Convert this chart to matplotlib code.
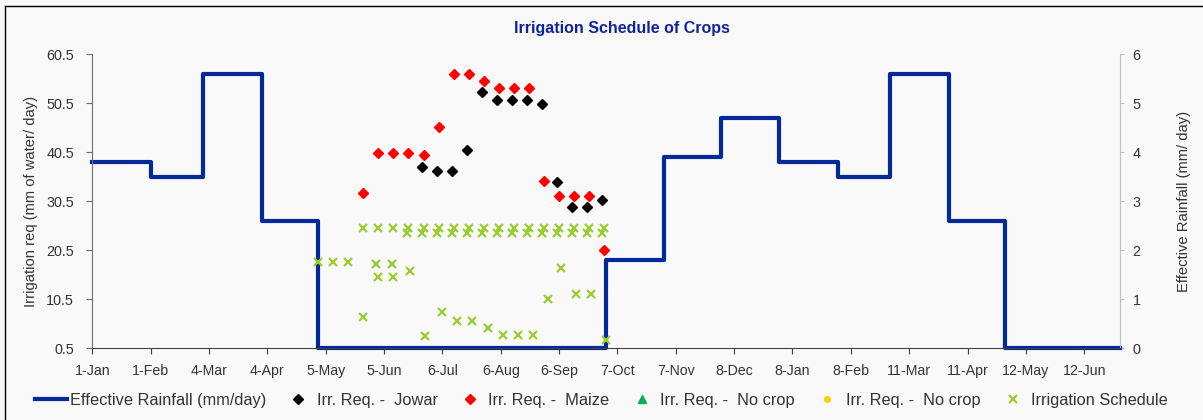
import matplotlib
matplotlib.use("Agg")
import matplotlib.pyplot as plt
import numpy as np
import pandas as pd
from matplotlib.lines import Line2D

# ---------------- data ----------------
season_start = "2021-01-01"
axis_end = "2022-07-01"

# monthly effective rainfall (mm/day), step line, month starts
rain_month_starts = ["2021-01-01", "2021-02-01", "2021-03-01", "2021-04-01", "2021-05-01",
                     "2021-06-01", "2021-07-01", "2021-08-01", "2021-09-01", "2021-10-01",
                     "2021-11-01", "2021-12-01", "2022-01-01", "2022-02-01", "2022-03-01",
                     "2022-04-01", "2022-05-01", "2022-06-01", "2022-07-01"]
rain_values = [3.8, 3.5, 5.6, 2.6, 0.0, 0.0, 0.0, 0.0, 0.0, 1.8,
               3.9, 4.7, 3.8, 3.5, 5.6, 2.6, 0.0, 0.0, 0.0]

# irrigation requirement (mm of water/day), by day since 1-Jan
jowar_days = [175, 183, 191, 199, 207, 215, 223, 231, 239, 247, 255, 263, 271]
jowar_req = [37.5, 36.6, 36.6, 40.9, 52.8, 51.2, 51.2, 51.2, 50.4, 34.4, 29.3, 29.3, 30.7]

maize_days = [144, 152, 160, 168, 176, 184, 192, 200, 208, 216, 224, 232, 240, 248, 256, 264, 272]
maize_req = [32.1, 40.4, 40.4, 40.4, 39.9, 45.7, 56.4, 56.4, 54.9, 53.5, 53.5, 53.5,
             34.6, 31.5, 31.5, 31.5, 20.5]

nocrop1_days, nocrop1_req = [], []
nocrop2_days, nocrop2_req = [], []

# irrigation schedule points
sched_days = [120, 128, 136,
              144, 152, 160, 168, 176, 184, 192, 200, 208, 216, 224, 232, 240, 248, 256, 264, 272,
              167, 175, 183, 191, 199, 207, 215, 223, 231, 239, 247, 255, 263, 271,
              144, 151, 152, 159, 160, 169, 177, 186, 194, 202, 210, 218, 226, 234, 242, 249,
              257, 265, 273]
sched_vals = [18.0, 18.0, 18.0,
              25.0, 25.0, 25.0, 25.0, 25.0, 25.0, 25.0, 25.0, 25.0, 25.0, 25.0, 25.0, 25.0,
              25.0, 25.0, 25.0, 25.0,
              24.1, 24.1, 24.1, 24.1, 24.1, 24.1, 24.1, 24.1, 24.1, 24.1, 24.1, 24.1, 24.1, 24.1,
              6.9, 17.7, 15.1, 17.7, 15.1, 16.3, 3.1, 8.0, 6.1, 6.1, 4.7, 3.2, 3.2, 3.2, 10.6,
              16.8, 11.6, 11.6, 2.2]

tick_labels = ["1-Jan", "1-Feb", "4-Mar", "4-Apr", "5-May", "5-Jun", "6-Jul", "6-Aug", "6-Sep",
               "7-Oct", "7-Nov", "8-Dec", "8-Jan", "8-Feb", "11-Mar", "11-Apr", "12-May", "12-Jun"]
left_ticks = [0.5, 10.5, 20.5, 30.5, 40.5, 50.5, 60.5]
right_ticks = [0, 1, 2, 3, 4, 5, 6]

# ---------------- helpers ----------------
base = pd.Timestamp(season_start)


def to_dates(days):
    return (base + pd.to_timedelta(np.asarray(days, dtype=float), unit="D")).to_numpy()


FONT = ["Liberation Sans", "DejaVu Sans"]
plt.rcParams["font.family"] = FONT
plt.rcParams["font.size"] = 10
BG = "#F9F9F9"
TXT = "#333333"

fig = plt.figure(figsize=(12.03, 4.2), dpi=100, facecolor=BG)
ax1 = fig.add_axes([0.0767, 0.1707, 0.931 - 0.0767, 0.8714 - 0.1707])
ax2 = ax1.twinx()
ax1.set_zorder(ax2.get_zorder() + 1)
ax1.patch.set_visible(False)
ax2.patch.set_facecolor(BG)

# rainfall step line on right axis
rain_x = pd.to_datetime(rain_month_starts).to_numpy()
rain_line, = ax2.plot(rain_x, rain_values, drawstyle="steps-post", color="#00299A",
                      lw=3.0, clip_on=False, label="Effective Rainfall (mm/day)")

# scatter series on left axis
h_j, = ax1.plot(to_dates(jowar_days), jowar_req, "D", ls="none", color="black", ms=4.6,
                label="Irr. Req. -  Jowar")
h_m, = ax1.plot(to_dates(maize_days), maize_req, "D", ls="none", color="#FF0000", ms=4.6,
                label="Irr. Req. -  Maize")
h_n1, = ax1.plot(to_dates(nocrop1_days), nocrop1_req, "^", ls="none", color="#00B050", ms=6,
                 label="Irr. Req. -  No crop")
h_n2, = ax1.plot(to_dates(nocrop2_days), nocrop2_req, "o", ls="none", color="#FFD000", ms=4,
                 label="Irr. Req. -  No crop")
h_s, = ax1.plot(to_dates(sched_days), sched_vals, "x", ls="none", color="#9ACD32", ms=6,
                mew=1.6, label="Irrigation Schedule")

# axes limits / ticks
xmin = pd.Timestamp(season_start)
xmax = pd.Timestamp(axis_end)
ax1.set_xlim(xmin, xmax)
tick_dates = pd.date_range(season_start, periods=len(tick_labels), freq="31D")
ax1.set_xticks(tick_dates.to_numpy())
ax1.set_xticklabels(tick_labels)
ax1.set_ylim(0.5, 60.5)
ax1.set_yticks(left_ticks)
ax1.set_yticklabels([f"{v:.1f}" for v in left_ticks])
ax2.set_ylim(0, 6)
ax2.set_yticks(right_ticks)

for ax in (ax1, ax2):
    ax.spines["top"].set_visible(False)
ax1.spines["right"].set_visible(False)
ax2.spines["left"].set_visible(False)
ax2.spines["bottom"].set_visible(False)
ax1.spines["left"].set_color("#6E6E6E")
ax1.spines["bottom"].set_color("#404040")
ax2.spines["right"].set_color("#BFBFBF")
ax1.tick_params(axis="y", direction="out", length=4, color="#6E6E6E", labelcolor=TXT,
                labelsize=10.4, pad=9)
ax1.tick_params(axis="x", direction="out", length=4, color="#404040", labelcolor=TXT,
                labelsize=10.2, pad=7)
ax2.tick_params(axis="y", direction="out", length=3, color="#BFBFBF", labelcolor=TXT,
                labelsize=10.4, pad=6)

ax1.set_ylabel("Irrigation req (mm of water/ day)", color=TXT, fontsize=10.6, labelpad=6)
ax2.set_ylabel("Effective Rainfall (mm/ day)", color=TXT, fontsize=10.6, labelpad=26)

fig.text(0.517, 1 - 28 / 420, "Irrigation Schedule of Crops", ha="center", va="center",
         fontsize=11.5, fontweight="bold", color="#10239E",
         family=["Liberation Sans", "DejaVu Sans"])

handles = [rain_line, h_j, h_m, h_n1, h_n2, h_s]
leg = fig.legend(handles=handles, labels=[h.get_label() for h in handles], loc="center",
                 bbox_to_anchor=(0.5, 1 - 400 / 420), ncol=6, frameon=False, fontsize=11.8,
                 handlelength=1.95, handletextpad=0.15, columnspacing=1.0, labelcolor=TXT)

# outer chart border (top and left visible)
fig.add_artist(Line2D([4.5 / 1203, 1.0], [1 - 5.7 / 420, 1 - 5.7 / 420], color="black",
                      lw=1.0, transform=fig.transFigure))
fig.add_artist(Line2D([4.5 / 1203, 4.5 / 1203], [0.0, 1 - 5.7 / 420], color="black",
                      lw=1.0, transform=fig.transFigure))

fig.savefig("out.png", dpi=100, facecolor=BG)
